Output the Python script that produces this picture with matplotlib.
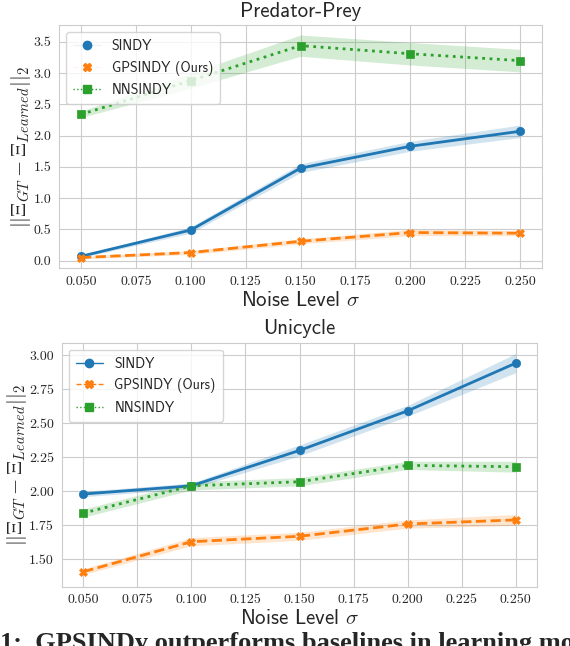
import matplotlib
matplotlib.use("Agg")
import matplotlib.pyplot as plt
from matplotlib.lines import Line2D
import seaborn as sns
import numpy as np

sigma = [0.05, 0.10, 0.15, 0.20, 0.25]
xticks = [0.050, 0.075, 0.100, 0.125, 0.150, 0.175, 0.200, 0.225, 0.250]

labels = ["SINDY", "GPSINDY (Ours)", "NNSINDY"]
colors = ["#1f77b4", "#ff7f0e", "#2ca02c"]
markers = ["o", "X", "s"]
styles = ["-", "--", ":"]

# Predator-Prey
sindy_pp = [0.07, 0.49, 1.48, 1.83, 2.07]
sindy_pp_err = [0.02, 0.05, 0.07, 0.08, 0.10]
gp_pp = [0.05, 0.13, 0.31, 0.45, 0.44]
gp_pp_err = [0.02, 0.03, 0.04, 0.05, 0.04]
nn_pp = [2.34, 2.88, 3.44, 3.31, 3.20]
nn_pp_err = [0.05, 0.12, 0.17, 0.18, 0.18]

# Unicycle
sindy_u = [1.98, 2.04, 2.30, 2.59, 2.94]
sindy_u_err = [0.02, 0.02, 0.04, 0.04, 0.07]
gp_u = [1.41, 1.63, 1.67, 1.76, 1.79]
gp_u_err = [0.02, 0.03, 0.03, 0.03, 0.04]
nn_u = [1.84, 2.04, 2.07, 2.19, 2.18]
nn_u_err = [0.03, 0.03, 0.03, 0.03, 0.04]

caption = "1:  GPSINDy outperforms baselines in learning models"

sns.set_style("whitegrid")
plt.rcParams["mathtext.fontset"] = "cm"
plt.rcParams["font.family"] = ["cmss10", "DejaVu Sans"]
plt.rcParams["axes.unicode_minus"] = False

fig = plt.figure(figsize=(5.7, 6.46), dpi=100)
W, H = 570.0, 646.0
ax1 = fig.add_axes([59 / W, (H - 268) / H, 483 / W, 243 / H])
ax2 = fig.add_axes([61.7 / W, (H - 586.7) / H, 475.6 / W, 244 / H])

panels = [
    (ax1, "Predator-Prey", [(sindy_pp, sindy_pp_err), (gp_pp, gp_pp_err), (nn_pp, nn_pp_err)], (-0.117, 3.77), True),
    (ax2, "Unicycle", [(sindy_u, sindy_u_err), (gp_u, gp_u_err), (nn_u, nn_u_err)], (1.30, 3.09), False),
]

for ax, title, series, ylim, faint in panels:
    for (vals, err), c, m, ls in zip(series, colors, markers, styles):
        v = np.array(vals)
        e = np.array(err)
        ax.fill_between(sigma, v - e, v + e, color=c, alpha=0.2, lw=0)
        ax.plot(sigma, vals, color=c, marker=m, ls=ls, lw=2, ms=6,
                markeredgecolor=c, markeredgewidth=0.5)
    ax.set_xlim(0.04, 0.26)
    ax.set_ylim(*ylim)
    ax.set_xticks(xticks)
    ax.set_title(title, fontsize=15, family=["cmss10", "DejaVu Sans"])
    ax.set_xlabel(r"Noise Level $\sigma$", fontsize=15, labelpad=2)
    ax.set_ylabel(r"$||\Xi_{GT} - \Xi_{Learned}||_2$", fontsize=15, labelpad=0)
    for lab in ax.get_xticklabels() + ax.get_yticklabels():
        lab.set_fontfamily("cmr10")
        lab.set_fontsize(10)
    ax.tick_params(axis="both", pad=2)
    for s in ax.spines.values():
        s.set_color("#cccccc")
    handles = []
    for i, (c, m, ls) in enumerate(zip(colors, markers, styles)):
        lc = (matplotlib.colors.to_rgba(c, 0.08) if (faint and i < 2) else c)
        handles.append(Line2D([0], [0], color=lc, ls=ls, lw=1, marker=m, ms=6,
                              markerfacecolor=c, markeredgecolor=c))
    ax.legend(handles, labels, loc="upper left", fontsize=10, frameon=True,
              handlelength=2.0, borderpad=0.5, labelspacing=0.55)

fig.text(0.0, -4 / H, caption,
         fontsize=19, fontweight="bold", family=["Liberation Serif"],
         ha="left", va="baseline")

fig.savefig("out.png", dpi=100)
